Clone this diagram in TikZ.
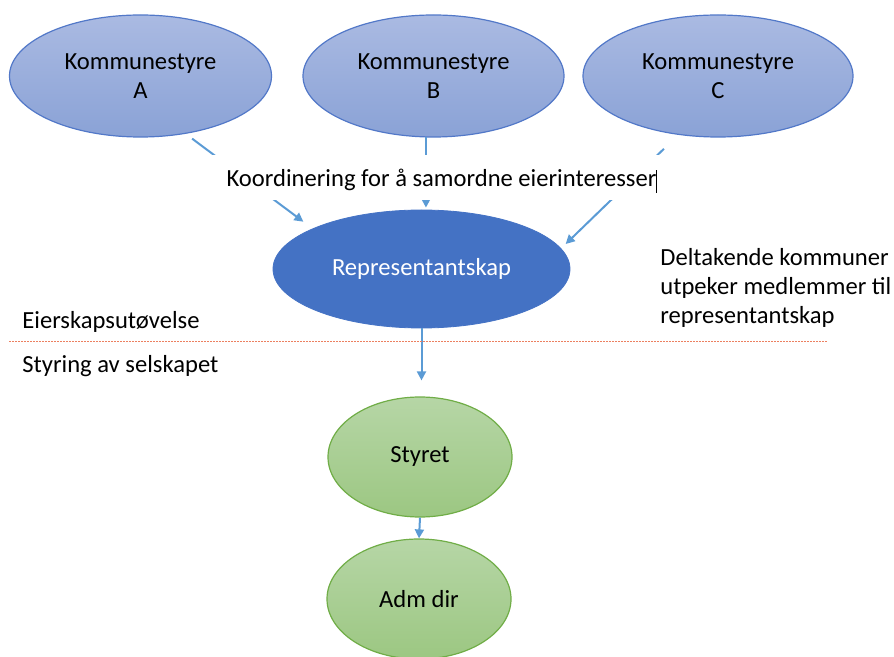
\documentclass[tikz,border=0pt]{standalone}
\usepackage{fontspec}
\setmainfont{Carlito}
\usetikzlibrary{shapes.geometric,arrows.meta,calc}
\definecolor{kfilltop}{RGB}{170,186,226}
\definecolor{kfillbot}{RGB}{138,162,214}
\definecolor{kborder}{RGB}{82,120,200}
\definecolor{repblue}{RGB}{68,114,196}
\definecolor{gtop}{RGB}{182,214,166}
\definecolor{gbot}{RGB}{156,199,130}
\definecolor{gborder}{RGB}{112,173,71}
\definecolor{arrblue}{RGB}{91,155,213}
\definecolor{sepcol}{RGB}{236,128,96}
\tikzset{
  kommune/.style={ellipse, draw=kborder, line width=0.6pt, top color=kfilltop, bottom color=kfillbot,
    minimum width=131pt, minimum height=61pt, inner sep=0pt, align=center},
  repnode/.style={ellipse, draw=repblue, fill=repblue, text=white, minimum width=148.5pt, minimum height=59pt, inner sep=0pt},
  greennode/.style={ellipse, draw=gborder, line width=0.6pt, top color=gtop, bottom color=gbot,
    minimum width=92pt, minimum height=60pt, inner sep=0pt},
  arr/.style={draw=arrblue, line width=1pt, -{Triangle[length=4.5pt,width=4.5pt]}},
  lbl/.style={inner sep=0pt},
}
\begin{document}
\begin{tikzpicture}[x=0.5pt,y=-0.5pt,font=\fontsize{12.3}{14.5}\selectfont]
\useasboundingbox (0,0) rectangle (894,657);
% nodes
\node[kommune] (A) at (140.5,76) {Kommunestyre\\A};
\node[kommune, minimum width=130.5pt] (B) at (433.5,76) {Kommunestyre\\B};
\node[kommune, minimum width=135pt] (C) at (718,76) {Kommunestyre\\C};
\node[repnode] (rep) at (421.5,269) {Representantskap};
\node[greennode] (styret) at (420,457) {Styret};
\node[greennode] (adm) at (419,599) {Adm dir};
% arrows into representantskap
\draw[arr, shorten <=4pt] (A.-52) -- ($(rep.158)+(-13.5,-5)$);
\draw[arr, shorten >=1pt] (B.263) -- (B.263 |- rep.north);
\draw[arr, shorten <=10pt] (C.236) -- ($(rep.10)+(8,-1)$);
% white backing of the coordination text
\fill[white] (210,155) rectangle (668,200);
\node[lbl] (koord) at (442,181) {Koordinering for å samordne eierinteresser\rule[-3pt]{0.5pt}{11.5pt}};
% lower arrows
\draw[arr, shorten >=8pt] (rep.south) -- (rep.south |- styret.north);
\draw[arr] (styret.south) -- (adm.north);
% separator
\draw[sepcol, line width=0.8pt, dash pattern=on 1pt off 0.5pt] (9,341.5) -- (827,341.5);
% labels
\node[lbl, anchor=base west] (eier) at (22,329) {Eierskapsutøvelse};
\node[lbl, anchor=base west] (styring) at (22,373) {Styring av selskapet};
\node[lbl, anchor=north west, align=left] (delta) at (660,248) {Deltakende kommuner\\utpeker medlemmer til\\representantskap};
\end{tikzpicture}
\end{document}
